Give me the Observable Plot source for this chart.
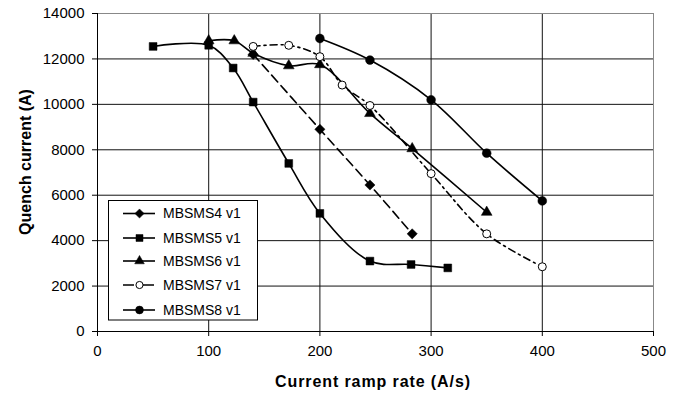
<!DOCTYPE html>
<html>
<head>
<meta charset="utf-8">
<script src="https://cdn.jsdelivr.net/npm/d3@7"></script>
<script src="https://cdn.jsdelivr.net/npm/@observablehq/plot@0.6"></script>
<style>
  html, body { margin: 0; padding: 0; background: #fff; }
  #chart { width: 681px; height: 396px; }
</style>
</head>
<body>
<div id="chart"></div>
<script>
// ---- data ----
const seriesNames = ["MBSMS4 v1", "MBSMS5 v1", "MBSMS6 v1", "MBSMS7 v1", "MBSMS8 v1"];

const rates4 = [140, 200, 245, 283];
const current4 = [12200, 8900, 6450, 4300];

const rates5 = [50, 100, 122, 140, 172, 200, 245, 282, 315];
const current5 = [12550, 12600, 11600, 10100, 7400, 5200, 3100, 2950, 2800];

const rates6 = [100, 123, 140, 172, 200, 245, 283, 350];
const current6 = [12800, 12800, 12250, 11700, 11750, 9600, 8050, 5250];

const rates7 = [140, 172, 200, 220, 245, 300, 350, 400];
const current7 = [12550, 12600, 12100, 10850, 9950, 6950, 4300, 2850];

const rates8 = [200, 245, 300, 350, 400];
const current8 = [12900, 11950, 10200, 7850, 5750];

const xTicks = [0, 100, 200, 300, 400, 500];
const yTicks = [0, 2000, 4000, 6000, 8000, 10000, 12000, 14000];

const xLabel = "Current ramp rate (A/s)";
const yLabel = "Quench current (A)";

// ---- styles per series ----
const styles = [
  {symbol: "diamond2", r: 4.6, fill: "#000", dash: "9,5"},
  {symbol: "square", r: 4.4, fill: "#000", dash: null},
  {symbol: "triangle", r: 4.0, fill: "#000", dash: null},
  {symbol: "circle", r: 4.0, fill: "#fff", dash: "7,4,2,4"},
  {symbol: "circle", r: 4.4, fill: "#000", dash: null}
];

const allRates = [rates4, rates5, rates6, rates7, rates8];
const allCurrents = [current4, current5, current6, current7, current8];
const tables = allRates.map((rs, i) => rs.map((r, j) => ({rate: r, current: allCurrents[i][j], series: seriesNames[i]})));

const font = "Arial, 'Liberation Sans', sans-serif";

const marks = [
  Plot.ruleY(yTicks.filter(v => v > 0 && v < 14000), {stroke: "#111", strokeWidth: 1}),
  Plot.ruleX(xTicks.filter(v => v > 0 && v < 500), {stroke: "#111", strokeWidth: 1}),
  Plot.ruleY([14000], {stroke: "#888", strokeWidth: 1}),
  Plot.ruleX([500], {stroke: "#888", strokeWidth: 1}),
  Plot.ruleX([0], {stroke: "#000", strokeWidth: 1}),
  Plot.ruleY([0], {stroke: "#000", strokeWidth: 1}),
  Plot.axisX({ticks: xTicks, tickSize: 5, tickPadding: 9, tickFormat: d => String(d), label: null, fontSize: 15, stroke: "#000"}),
  Plot.axisY({ticks: yTicks, tickSize: 5, tickPadding: 8, tickFormat: d => String(d), label: null, fontSize: 15, stroke: "#000"})
];

tables.forEach((t, i) => {
  const s = styles[i];
  marks.push(Plot.line(t, {x: "rate", y: "current", curve: "catmull-rom", stroke: "#000", strokeWidth: 1.6, strokeDasharray: s.dash}));
});
tables.forEach((t, i) => {
  const s = styles[i];
  marks.push(Plot.dot(t, {x: "rate", y: "current", symbol: () => s.symbol, r: s.r, fill: s.fill, stroke: "#000", strokeWidth: s.fill === "#fff" ? 1 : 0.5}));
});

const chart = Plot.plot({
  width: 681,
  height: 396,
  marginLeft: 97,
  marginRight: 28,
  marginTop: 13,
  marginBottom: 65,
  style: {fontFamily: font, fontSize: "15px", color: "#000", background: "#fff"},
  x: {domain: [0, 500]},
  y: {domain: [0, 14000]},
  symbol: {type: "identity"},
  marks
});

const svg = d3.select(chart);

// ---- axis titles ----
svg.append("text").attr("transform", "translate(25,162) rotate(-90)")
  .attr("text-anchor", "middle").attr("dy", "0.35em")
  .attr("font-family", font).attr("font-size", 16).attr("font-weight", "bold").attr("fill", "#000")
  .text(yLabel);
svg.append("text").attr("x", 373).attr("y", 381)
  .attr("text-anchor", "middle").attr("dy", "0.35em")
  .attr("font-family", font).attr("font-size", 16).attr("font-weight", "bold").attr("fill", "#000")
  .style("letter-spacing", "0.9px")
  .text(xLabel);

// ---- legend (inside the plot area) ----
const lg = svg.append("g").attr("font-family", font).attr("font-size", 14);
lg.append("rect").attr("x", 108.5).attr("y", 200.5).attr("width", 149).attr("height", 119.5)
  .attr("fill", "#fff").attr("stroke", "#000").attr("stroke-width", 1);
const rowsY = [213.5, 238, 261, 285, 310];
const symMap = {diamond2: d3.symbolDiamond2, square: d3.symbolSquare, triangle: d3.symbolTriangle, circle: d3.symbolCircle};
seriesNames.forEach((name, i) => {
  const s = styles[i];
  const y = rowsY[i];
  lg.append("line").attr("x1", 123).attr("x2", 155).attr("y1", y).attr("y2", y)
    .attr("stroke", "#000").attr("stroke-width", 1.6)
    .attr("stroke-dasharray", i === 3 ? "11,3,2,4" : null);
  lg.append("path").attr("d", d3.symbol(symMap[s.symbol], Math.PI * s.r * s.r * 0.8)())
    .attr("transform", `translate(139.5,${y})`)
    .attr("fill", s.fill).attr("stroke", "#000").attr("stroke-width", s.fill === "#fff" ? 1 : 0.5);
  lg.append("text").attr("x", 163).attr("y", y).attr("dy", "0.35em")
    .attr("text-anchor", "start").attr("fill", "#000").text(name);
});

document.getElementById("chart").appendChild(chart);
</script>
</body>
</html>
